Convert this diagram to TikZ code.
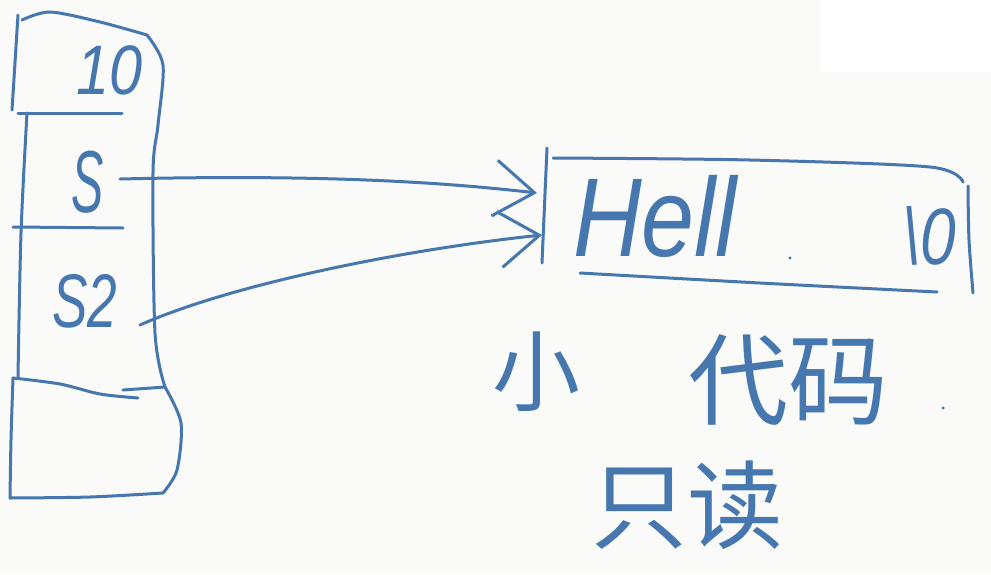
\documentclass[tikz,border=0pt]{standalone}
\usepackage{fontspec}
\setmainfont{Liberation Sans}
\newfontfamily\cjk{Noto Sans CJK SC}
\usetikzlibrary{arrows.meta}
\definecolor{ink}{HTML}{4677AE}
\definecolor{bg}{HTML}{FAFAF8}
\tikzset{
  pen/.style={draw=ink, line width=3pt, line cap=round, line join=round},
  arr/.style={pen, -{Straight Barb[length=40pt,width=56pt]}},
  hand/.style={text=ink, inner sep=0pt},
  hanzi/.style={text=ink, inner sep=0pt},
}
\begin{document}
\begin{tikzpicture}[x=1pt,y=-1pt]
\useasboundingbox (0,0) rectangle (991,574);
\fill[bg] (0,0) rectangle (991,574);
\fill[white] (821,0) rectangle (991,72);

% ---- stack ----
\draw[pen] (18,15) -- (12,110);
\draw[pen] plot[smooth] coordinates {(22,20) (50,12) (100,22) (147,35)};
\draw[pen] plot[smooth] coordinates {(147,35) (163,65) (158,125) (153,173) (155,333) (165,387)};
\draw[pen] (18,113) -- (122,113);
\draw[pen] plot[smooth] coordinates {(27,113) (21,233) (18,377)};
\draw[pen] (13,227) -- (123,228);
\draw[pen] plot[smooth] coordinates {(13,378) (60,384) (100,394) (138,398)};
\draw[pen] (123,390) -- (165,387);
\draw[pen] plot[smooth] coordinates {(165,387) (181,423) (177,470) (163,493)};
\draw[pen] plot[smooth] coordinates {(163,493) (90,497) (10,498)};
\draw[pen] plot[smooth] coordinates {(13,378) (11,440) (10,498)};

\node[hand, font=\itshape\fontsize{70}{70}\selectfont] (ten) at (110,70) {\scalebox{0.85}[1]{10}};
\node[hand, font=\itshape\fontsize{88}{88}\selectfont] (cellS) at (88,182) {\scalebox{0.55}[1]{S}};
\node[hand, font=\itshape\fontsize{76}{76}\selectfont] (cellS2) at (85,301) {\scalebox{0.7}[1]{S2}};

% ---- string box ----
\draw[pen] (547,148) -- (542,263);
\draw[pen] plot[smooth] coordinates {(553,158) (750,160) (930,167) (963,182)};
\draw[pen] plot[smooth] coordinates {(968,186) (969,240) (973,293)};
\draw[pen] plot[smooth] coordinates {(580,273) (760,283) (937,292)};

\node[hand, font=\itshape\fontsize{112}{112}\selectfont] (hell) at (655,216) {\scalebox{0.85}[1]{Hell}};
\fill[ink] (790,258) circle (1.6pt);
\node[hand, font=\itshape\fontsize{80}{80}\selectfont] (nul) at (929,236) {\scalebox{0.8}[1]{\textbackslash 0}};

% ---- pointers ----
\coordinate (sA) at (120,179);
\coordinate (sB) at (140,325);
\coordinate (tipA) at (537,193);
\coordinate (tipB) at (542,235);
\draw[arr] (sA) .. controls (330,174) and (450,183) .. (tipA);
\draw[arr] (sB) .. controls (230,285) and (400,250) .. (tipB);

% ---- notes ----
\node[hanzi, font=\cjk\fontsize{88}{88}\selectfont] (xiao) at (536,372) {小};
\node[hanzi, font=\cjk\fontsize{100}{100}\selectfont] (daima) at (788,380) {代码};
\fill[ink] (943,408) circle (1.6pt);
\node[hanzi, font=\cjk\fontsize{96}{96}\selectfont] (zhidu) at (687,505) {只读};
\end{tikzpicture}
\end{document}
